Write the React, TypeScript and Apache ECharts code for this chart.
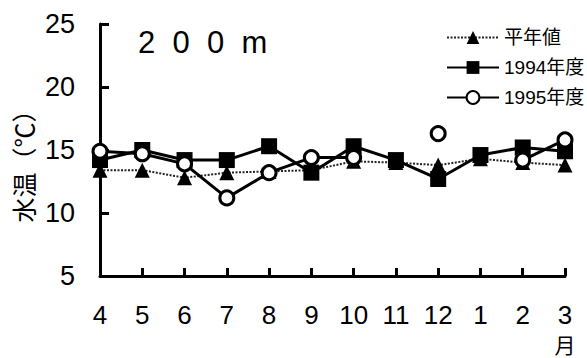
import React, { useEffect, useRef } from "react";
import * as echarts from "echarts";

// Months of the fiscal year (April to March)
const months = ["4", "5", "6", "7", "8", "9", "10", "11", "12", "1", "2", "3"];
// Water temperature at 200 m depth (°C)
const normalValues = [13.4, 13.4, 12.8, 13.2, 13.3, 13.4, 14.1, 14.0, 13.8, 14.3, 14.0, 13.8];
const fy1994 = [14.2, 15.0, 14.2, 14.2, 15.3, 13.2, 15.3, 14.2, 12.7, 14.6, 15.2, 14.9];
const fy1995 = [14.9, 14.7, 13.9, 11.2, 13.2, 14.4, 14.4, null, 16.3, null, 14.2, 15.8];
const yTicks = { min: 5, max: 25, interval: 5 };

const NUM_FONT = "'Liberation Sans', Arial, sans-serif";
const JP_FONT = "'Liberation Sans', 'Noto Sans CJK JP', sans-serif";

export default function App() {
  const ref = useRef<HTMLDivElement>(null);

  useEffect(() => {
    document.body.style.margin = "0";
    if (!ref.current) return;
    const chart = echarts.init(ref.current, null, { renderer: "svg" });
    chart.setOption({
      animation: false,
      backgroundColor: "#ffffff",
      grid: { left: 100, right: 22, top: 24, bottom: 82 },
      legend: {
        orient: "vertical",
        left: 441,
        top: 23,
        itemWidth: 52,
        itemHeight: 16,
        itemGap: 11,
        textStyle: { fontSize: 19, color: "#000", fontFamily: JP_FONT },
        data: ["平年値", "1994年度", "1995年度"],
      },
      xAxis: {
        type: "category",
        data: months,
        boundaryGap: false,
        axisLine: { lineStyle: { color: "#000", width: 3 } },
        axisTick: { inside: true, length: 8, lineStyle: { color: "#000", width: 3 }, interval: 0 },
        axisLabel: { interval: 0, fontSize: 26, color: "#000", margin: 26, fontFamily: NUM_FONT },
        splitLine: { show: false },
      },
      yAxis: {
        type: "value",
        min: yTicks.min,
        max: yTicks.max,
        interval: yTicks.interval,
        axisLine: { show: true, lineStyle: { color: "#000", width: 3 } },
        axisTick: { show: true, inside: true, length: 9, lineStyle: { color: "#000", width: 3 } },
        axisLabel: { fontSize: 27, color: "#000", margin: 25, fontFamily: NUM_FONT },
        splitLine: { show: false },
      },
      graphic: [
        {
          type: "text",
          x: 23,
          y: 160,
          rotation: Math.PI / 2,
          style: {
            text: "水温（℃）",
            fontSize: 25,
            fontFamily: "'Noto Sans CJK JP', sans-serif",
            fill: "#000",
            align: "center",
            verticalAlign: "middle",
          },
        },
        {
          type: "text",
          x: 138,
          y: 42,
          style: {
            text: "2  0  0  m",
            fontSize: 31,
            fontFamily: NUM_FONT,
            fill: "#000",
            align: "left",
            verticalAlign: "middle",
          },
        },
        {
          type: "text",
          x: 565,
          y: 344,
          style: {
            text: "月",
            fontSize: 21,
            fontFamily: "'Noto Sans CJK JP', sans-serif",
            fill: "#000",
            align: "center",
            verticalAlign: "middle",
          },
        },
      ],
      series: [
        {
          name: "平年値",
          type: "line",
          data: normalValues,
          symbol: "triangle",
          symbolSize: 15,
          itemStyle: { color: "#000" },
          lineStyle: { color: "#222", width: 2, type: [2, 1.5] },
          z: 2,
        },
        {
          name: "1994年度",
          type: "line",
          data: fy1994,
          symbol: "rect",
          symbolSize: 16,
          itemStyle: { color: "#000" },
          lineStyle: { color: "#000", width: 3 },
          z: 3,
        },
        {
          name: "1995年度",
          type: "line",
          data: fy1995,
          connectNulls: false,
          symbol: "circle",
          symbolSize: 14,
          showAllSymbol: true,
          itemStyle: { color: "#fff", borderColor: "#000", borderWidth: 3 },
          lineStyle: { color: "#000", width: 3 },
          z: 4,
        },
      ],
    });
    return () => chart.dispose();
  }, []);

  return <div ref={ref} style={{ width: 587, height: 358 }} />;
}
